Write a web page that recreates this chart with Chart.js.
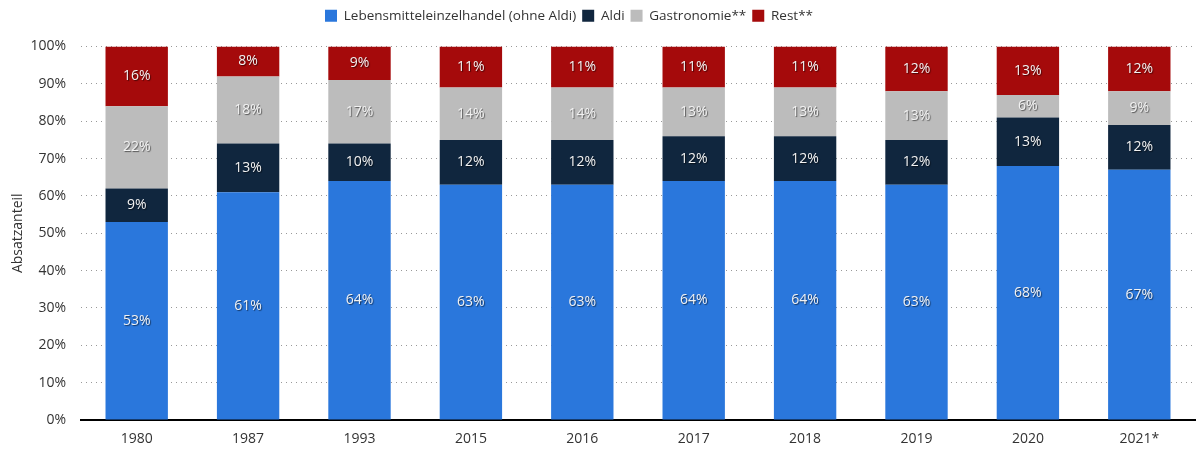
<!DOCTYPE html>
<html>
<head>
<meta charset="utf-8">
<script src="https://cdn.jsdelivr.net/npm/chart.js@4/dist/chart.umd.min.js"></script>
<style>
html,body{margin:0;padding:0;background:#fff;}
#wrap{width:1198px;height:452px;}
</style>
</head>
<body>
<div id="wrap"><canvas id="c" width="1198" height="452"></canvas></div>
<script>
const categories = ["1980","1987","1993","2015","2016","2017","2018","2019","2020","2021*"];
const lebensmittel = [53,61,64,63,63,64,64,63,68,67];
const aldi = [9,13,10,12,12,12,12,12,13,12];
const gastronomie = [22,18,17,14,14,13,13,13,6,9];
const rest = [16,8,9,11,11,11,11,12,13,12];
const seriesNames = ["Lebensmitteleinzelhandel (ohne Aldi)","Aldi","Gastronomie**","Rest**"];
const yTicks = [0,10,20,30,40,50,60,70,80,90,100];

const FONT = "'Open Sans', 'Noto Sans', sans-serif";

const labelPlugin = {
  id: 'barLabels',
  beforeInit(chart) {
    if (chart.legend) {
      const orig = chart.legend.fit;
      chart.legend.fit = function() {
        orig.call(this);
        this.height += 14;
      };
    }
  },
  afterLayout(chart) {
    if (chart.legend) {
      chart.legend.left = 319;
    }
  },
  afterDatasetsDraw(chart) {
    const ctx = chart.ctx;
    ctx.save();
    ctx.font = "14px " + FONT;
    ctx.textAlign = 'center';
    ctx.textBaseline = 'middle';
    chart.data.datasets.forEach((ds, i) => {
      const meta = chart.getDatasetMeta(i);
      meta.data.forEach((el, j) => {
        const v = ds.data[j];
        const y = (el.y + el.base) / 2;
        ctx.shadowColor = 'rgba(0,0,0,0.55)';
        ctx.shadowOffsetX = 1;
        ctx.shadowOffsetY = 1;
        ctx.shadowBlur = 1;
        ctx.fillStyle = '#f2f2f2';
        ctx.fillText(v + '%', el.x, y);
      });
    });
    ctx.restore();
  }
};

new Chart(document.getElementById('c'), {
  type: 'bar',
  data: {
    labels: categories,
    datasets: [
      {label: seriesNames[0], data: lebensmittel, backgroundColor: '#2a77dc'},
      {label: seriesNames[1], data: aldi, backgroundColor: '#10263e'},
      {label: seriesNames[2], data: gastronomie, backgroundColor: '#bcbcbc'},
      {label: seriesNames[3], data: rest, backgroundColor: '#a50a0b'}
    ]
  },
  options: {
    responsive: false,
    animation: false,
    devicePixelRatio: 1,
    layout: {padding: {left: 0, right: 3, top: 3, bottom: 0}},
    datasets: {bar: {barPercentage: 0.56, categoryPercentage: 1.0}},
    plugins: {
      legend: {
        position: 'top',
        align: 'start',
        labels: {
          boxWidth: 12, boxHeight: 12, padding: 6,
          color: '#333', font: {family: FONT, size: 13.5}
        }
      },
      tooltip: {enabled: false}
    },
    scales: {
      x: {
        stacked: true,
        grid: {display: false},
        border: {display: true, color: '#000', width: 2},
        afterFit(scale) { scale.height = 32; },
        ticks: {color: '#333', font: {family: FONT, size: 14}, padding: 3}
      },
      y: {
        stacked: true,
        min: 0, max: 100,
        afterBuildTicks(scale) { scale.ticks = yTicks.map(v => ({value: v})); },
        afterFit(scale) { scale.width = 81; },
        grid: {color: '#999', lineWidth: 1, drawTicks: false},
        border: {display: false, dash: [1, 4]},
        ticks: {color: '#333', font: {family: FONT, size: 14}, padding: 15, callback: v => v + '%'},
        title: {display: true, text: 'Absatzanteil', color: '#333', font: {family: FONT, size: 14}, padding: {top: 10, bottom: 4}}
      }
    }
  },
  plugins: [labelPlugin]
});
</script>
</body>
</html>
